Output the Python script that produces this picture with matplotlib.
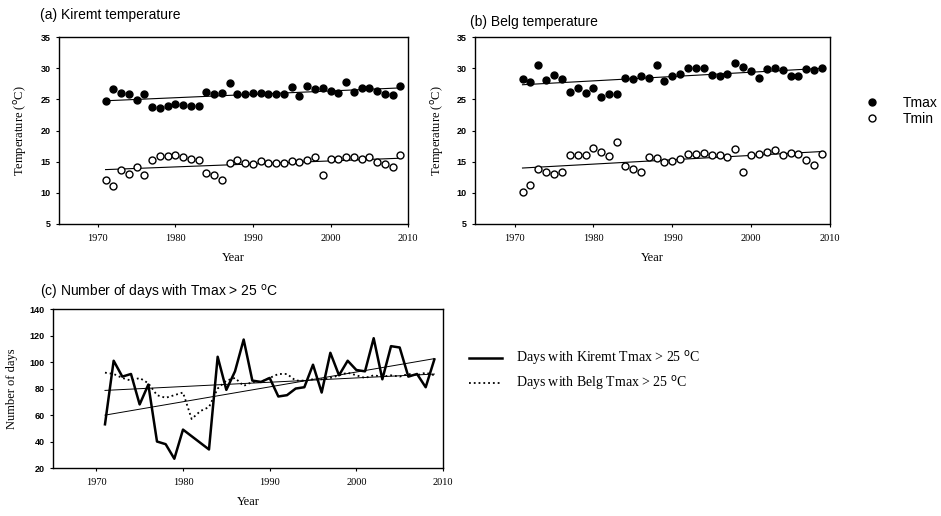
import numpy as np
import matplotlib
matplotlib.use("Agg")
import matplotlib.pyplot as plt
from matplotlib.lines import Line2D

# ---------------------------------------------------------------------------
# Data
# ---------------------------------------------------------------------------
years = np.arange(1971, 2010)

kiremt_tmax = [24.7, 26.6, 26.0, 25.8, 24.9, 25.9, 23.8, 23.6, 23.9, 24.3,
               24.1, 24.0, 23.9, 26.2, 25.8, 26.0, 27.7, 25.9, 25.9, 26.1,
               26.0, 25.8, 25.8, 25.8, 27.0, 25.6, 27.1, 26.6, 26.9, 26.3,
               26.1, 27.8, 26.2, 26.8, 26.8, 26.3, 25.9, 25.7, 27.2]
kiremt_tmin = [12.1, 11.1, 13.7, 13.1, 14.1, 12.9, 15.3, 15.9, 15.9, 16.1,
               15.7, 15.4, 15.3, 13.2, 12.8, 12.1, 14.8, 15.2, 14.8, 14.7,
               15.1, 14.8, 14.8, 14.8, 15.1, 14.9, 15.2, 15.8, 12.9, 15.5,
               15.4, 15.7, 15.8, 15.5, 15.7, 15.0, 14.6, 14.2, 16.0]

belg_tmax = [28.3, 27.8, 30.6, 28.1, 29.0, 28.3, 26.2, 26.8, 26.0, 26.9,
             25.4, 25.9, 25.9, 28.4, 28.2, 28.8, 28.4, 30.5, 28.0, 28.8,
             29.1, 30.1, 30.1, 30.1, 29.0, 28.7, 29.1, 30.8, 30.2, 29.6,
             28.5, 29.9, 30.0, 29.7, 28.8, 28.7, 29.9, 29.7, 30.0]
belg_tmin = [10.2, 11.2, 13.9, 13.3, 13.0, 13.3, 16.0, 16.1, 16.1, 17.2,
             16.5, 15.9, 18.1, 14.3, 13.8, 13.3, 15.7, 15.6, 15.0, 15.1,
             15.5, 16.3, 16.3, 16.4, 16.1, 16.1, 15.7, 17.1, 13.4, 16.1,
             16.3, 16.6, 16.8, 16.0, 16.4, 16.3, 15.3, 14.5, 16.2]

kiremt_days = [53, 101, 89, 91, 68, 83, 40, 38, 27, 49,
               44, 39, 34, 104, 79, 93, 117, 86, 85, 88,
               74, 75, 80, 81, 98, 77, 107, 90, 101, 94,
               93, 118, 87, 112, 111, 89, 91, 81, 102]
belg_days = [92, 91, 88, 86, 88, 84, 75, 73, 75, 77,
             57, 63, 66, 80, 86, 88, 82, 85, 85, 88,
             91, 91, 86, 86, 87, 87, 88, 90, 92, 90,
             88, 90, 89, 90, 89, 91, 90, 92, 90]

temp_ticks = [5, 10, 15, 20, 25, 30, 35]
days_ticks = [20, 40, 60, 80, 100, 120, 140]
year_ticks = [1970, 1980, 1990, 2000, 2010]

SANS = "Liberation Sans"
SERIF = "Liberation Serif"


def trend(x, y):
    k, b = np.polyfit(x, y, 1)
    return k * np.asarray(x) + b


def style_box(ax, yticks, ylim):
    ax.set_xlim(1965, 2010)
    ax.set_ylim(*ylim)
    ax.set_xticks(year_ticks)
    ax.set_yticks(yticks)
    for s in ax.spines.values():
        s.set_linewidth(1.0)
    ax.tick_params(axis="both", direction="out", length=2.5, width=0.8)
    ax.tick_params(axis="x", pad=5)
    for lab in ax.get_xticklabels():
        lab.set_fontfamily(SERIF)
        lab.set_fontsize(7.5)
    for lab in ax.get_yticklabels():
        lab.set_fontfamily(SANS)
        lab.set_fontweight("bold")
        lab.set_fontsize(6.5)


def temp_panel(ax, tmax, tmin):
    ax.plot(years, tmax, "o", color="black", markersize=5, zorder=3)
    ax.plot(years, tmin, "o", markerfacecolor="white", markeredgecolor="black",
            markeredgewidth=1.0, markersize=5, zorder=3)
    ax.plot(years, trend(years, tmax), "-", color="black", lw=0.8, zorder=2)
    ax.plot(years, trend(years, tmin), "-", color="black", lw=0.8, zorder=2)
    style_box(ax, temp_ticks, (5, 35))
    ax.set_xlabel("Year", fontfamily=SERIF, fontsize=9, labelpad=6)
    ax.set_ylabel("Temperature ($^{\\rm o}$C)", fontfamily=SERIF, fontsize=9,
                  labelpad=8)


fig = plt.figure(figsize=(9.41, 5.16), dpi=100)

ax_a = fig.add_axes([0.0627, 0.566, 0.371, 0.362])
ax_b = fig.add_axes([0.505, 0.566, 0.377, 0.362])
ax_c = fig.add_axes([0.0563, 0.093, 0.4145, 0.308])

temp_panel(ax_a, kiremt_tmax, kiremt_tmin)
temp_panel(ax_b, belg_tmax, belg_tmin)

fig.text(0.042, 0.970, "(a) Kiremt temperature", fontfamily=SANS, fontsize=10,
         va="center", ha="left")
fig.text(0.499, 0.957, "(b) Belg temperature", fontfamily=SANS, fontsize=10,
         va="center", ha="left")

# Tmax / Tmin legend
h_max = Line2D([], [], ls="none", marker="o", color="black", markersize=5)
h_min = Line2D([], [], ls="none", marker="o", markerfacecolor="white",
               markeredgecolor="black", markersize=5)
fig.legend([h_max, h_min], ["Tmax", "Tmin"], loc="center left",
           bbox_to_anchor=(0.905, 0.785), frameon=False,
           prop={"family": SANS, "size": 10}, handlelength=1.2,
           handletextpad=1.6, labelspacing=0.15)

# (c) Number of days
l_k, = ax_c.plot(years, kiremt_days, "-", color="black", lw=1.8, zorder=3)
l_b, = ax_c.plot(years, belg_days, ":", color="black", lw=1.3, zorder=3)
ax_c.plot(years, trend(years, kiremt_days), "-", color="black", lw=0.7)
ax_c.plot(years, trend(years, belg_days), "-", color="black", lw=0.7)
style_box(ax_c, days_ticks, (20, 140))
ax_c.set_xlabel("Year", fontfamily=SERIF, fontsize=9, labelpad=6)
ax_c.set_ylabel("Number of days", fontfamily=SERIF, fontsize=9, labelpad=8)

fig.text(0.042, 0.434, "(c) Number of days with Tmax > 25 $^{\\rm o}$C",
         fontfamily=SANS, fontsize=10, va="center", ha="left")

fig.legend([l_k, l_b],
           ["Days with Kiremt Tmax > 25 $^{\\rm o}$C",
            "Days with Belg Tmax > 25 $^{\\rm o}$C"],
           loc="center left", bbox_to_anchor=(0.485, 0.281), frameon=False,
           prop={"family": SERIF, "size": 10}, handlelength=2.4,
           handletextpad=1.0, labelspacing=0.45)

fig.savefig("out.png", dpi=100)
